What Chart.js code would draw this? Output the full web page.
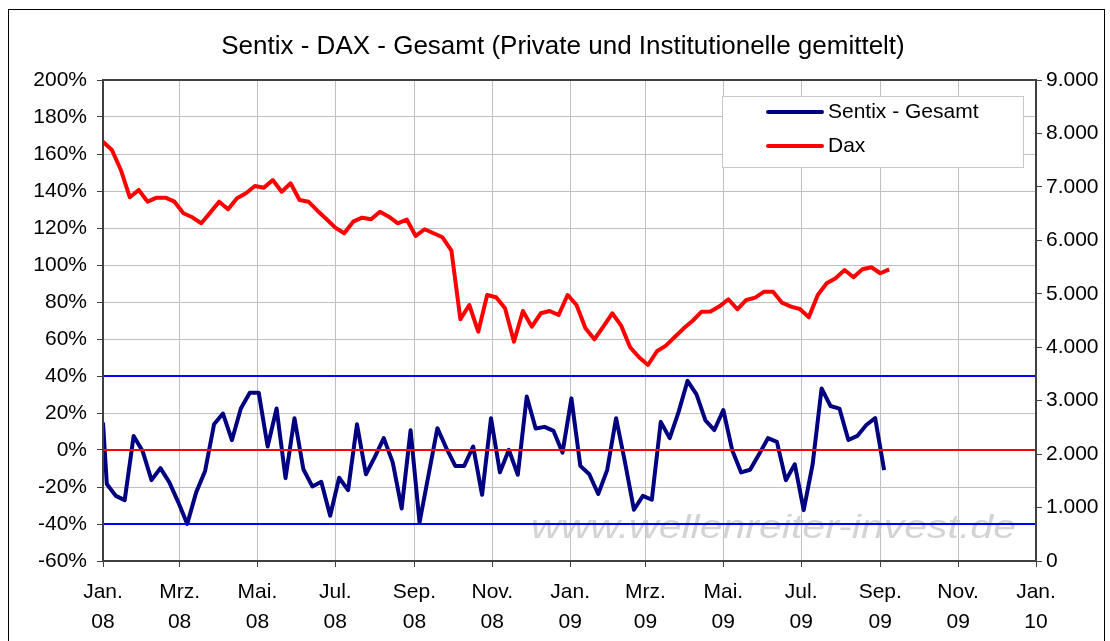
<!DOCTYPE html>
<html><head><meta charset="utf-8">
<script src="https://cdn.jsdelivr.net/npm/chart.js@4.4.1/dist/chart.umd.min.js"></script>
<style>html,body{margin:0;padding:0;background:#fff}canvas{display:block}</style>
</head><body>
<canvas id="c" width="1110" height="641"></canvas>
<script>
// ---------- data ----------
const titleText = 'Sentix - DAX - Gesamt (Private und Institutionelle gemittelt)';
const sentixLabel = 'Sentix - Gesamt';
const daxLabel = 'Dax';
const watermarkText = 'www.wellenreiter-invest.de';

const axisStartDate = '2008-01-01';
const axisEndDate = '2010-01-01';
const monthTickDates = ['2008-01-01','2008-03-01','2008-05-01','2008-07-01','2008-09-01','2008-11-01',
  '2009-01-01','2009-03-01','2009-05-01','2009-07-01','2009-09-01','2009-11-01','2010-01-01'];
const monthTickLabels = [['Jan.','08'],['Mrz.','08'],['Mai.','08'],['Jul.','08'],['Sep.','08'],['Nov.','08'],
  ['Jan.','09'],['Mrz.','09'],['Mai.','09'],['Jul.','09'],['Sep.','09'],['Nov.','09'],['Jan.','10']];

// Sentix: one value at the start of the axis, then weekly readings
const sentixFirstDate = '2008-01-01';
const sentixWeeklyStart = '2008-01-04';
const sentixValues = [14.8,
  -18.4,-24.8,-27.1,7.6,-0.5,-16.3,-9.8,-17.5,-28.3,-40.0,
  -22.9,-11.3,13.9,19.7,5.3,22.4,31.0,31.0,1.9,22.4,
  -15.2,17.2,-10.4,-19.7,-17.2,-35.5,-15.0,-21.7,13.9,-13.1,
  -3.7,6.4,-6.7,-31.6,10.7,-39.1,-13.7,11.8,1.0,-8.6,
  -8.6,1.9,-24.2,17.2,-12.1,0.1,-13.4,28.9,11.6,12.5,
  10.3,-1.4,27.9,-8.6,-13.1,-23.8,-10.9,17.2,-6.7,-32.3,
  -24.8,-26.9,15.2,6.4,20.6,37.4,30.1,16.0,10.8,21.6,
  -0.1,-12.1,-10.7,-2.3,6.4,4.4,-16.3,-7.7,-32.5,-7.7,
  33.3,23.8,22.4,5.4,7.6,13.5,17.2,-10.9];

// DAX weekly closes
const daxWeeklyStart = '2008-01-01';
const daxValues = [
  7846,7691,7317,6806,6942,6723,6798,6798,6723,6506,
  6431,6319,6518,6723,6581,6787,6881,7017,6985,7129,
  6910,7068,6755,6723,6555,6400,6237,6132,6349,6424,
  6394,6536,6443,6319,6390,6082,6207,6132,6057,5807,
  4523,4790,4291,4978,4935,4729,4104,4678,4384,4635,
  4678,4603,4978,4790,4354,4149,4384,4635,4403,4000,
  3812,3668,3925,4030,4190,4354,4495,4665,4670,4765,
  4897,4710,4884,4927,5039,5039,4833,4759,4716,4560,
  4978,5196,5290,5445,5309,5458,5496,5384,5458];

const bandLevels = [40, -40];
const zeroLevels = [0];
const leftMin = -60, leftMax = 200, leftStep = 20;
const rightMin = 0, rightMax = 9000, rightStep = 1000;

// ---------- helpers ----------
const DAY = 86400000;
const dayOf = s => Math.round((Date.parse(s) - Date.parse(axisStartDate)) / DAY);
const xMin = dayOf(axisStartDate), xMax = dayOf(axisEndDate);
const monthTickDays = monthTickDates.map(dayOf);
const sentixPoints = sentixValues.map((v, i) => ({
  x: i === 0 ? dayOf(sentixFirstDate) : dayOf(sentixWeeklyStart) + 7 * (i - 1), y: v }));
const daxPoints = daxValues.map((v, i) => ({ x: dayOf(daxWeeklyStart) + 7 * i, y: v }));
const fmtThousands = v => String(v).replace(/\B(?=(\d{3})+(?!\d))/g, '.');

const FONT = "'Liberation Sans', Arial, sans-serif";
Chart.defaults.font.family = FONT;
Chart.defaults.color = '#000';

const hLine = (v, color) => ({
  label: '_ref', data: [{x: xMin, y: v}, {x: xMax, y: v}], borderColor: color, borderWidth: 2,
  pointRadius: 0, yAxisID: 'y', order: 0, clip: 0
});

const decor = {
  id: 'decor',
  beforeDraw(chart) {
    const c = chart.ctx;
    c.save();
    c.fillStyle = '#fff';
    c.fillRect(0, 0, chart.width, chart.height);
    c.strokeStyle = '#000'; c.lineWidth = 1;
    c.strokeRect(8.5, 9.5, 1096, 700);
    c.fillStyle = '#000';
    c.font = '26px ' + FONT;
    c.textAlign = 'center'; c.textBaseline = 'alphabetic';
    c.fillText(titleText, 563, 54);
    c.restore();
  },
  beforeDatasetsDraw(chart) {
    const c = chart.ctx, a = chart.chartArea;
    c.save();
    c.beginPath(); c.rect(a.left, a.top, a.right - a.left, a.bottom - a.top); c.clip();
    c.font = 'italic 34px ' + FONT;
    c.fillStyle = 'rgba(200,200,200,0.8)';
    c.textBaseline = 'alphabetic'; c.textAlign = 'left';
    const w = c.measureText(watermarkText).width;
    c.translate(531, 538);
    c.scale(485 / w, 1);
    c.fillText(watermarkText, 0, 0);
    c.restore();
  },
  afterDraw(chart) {
    const c = chart.ctx, a = chart.chartArea;
    c.save();
    c.strokeStyle = '#404040'; c.lineWidth = 2;
    c.strokeRect(a.left, a.top, a.right - a.left, a.bottom - a.top);
    // legend
    c.fillStyle = '#fff';
    c.fillRect(722, 96, 301, 71);
    c.strokeStyle = '#c8c8c8'; c.lineWidth = 1;
    c.strokeRect(722.5, 96.5, 301, 71);
    const items = chart.data.datasets.filter(d => d.label !== '_ref');
    const ys = [112, 146];
    c.font = '21px ' + FONT; c.textBaseline = 'middle'; c.textAlign = 'left';
    items.forEach((d, i) => {
      c.strokeStyle = d.borderColor; c.lineWidth = 4; c.lineCap = 'round';
      c.beginPath(); c.moveTo(768, ys[i]); c.lineTo(822, ys[i]); c.stroke();
      c.fillStyle = '#000';
      c.fillText(d.label, 828, ys[i]);
    });
    c.restore();
  }
};

new Chart(document.getElementById('c'), {
  type: 'line',
  data: {
    datasets: [
      ...bandLevels.map(v => hLine(v, '#0000ff')),
      ...zeroLevels.map(v => hLine(v, '#ff0000')),
      { label: sentixLabel, data: sentixPoints, borderColor: '#000080', borderWidth: 4,
        pointRadius: 0, yAxisID: 'y', order: 1, borderJoinStyle: 'round', tension: 0 },
      { label: daxLabel, data: daxPoints, borderColor: '#ff0000', borderWidth: 4,
        pointRadius: 0, yAxisID: 'y1', order: 2, borderJoinStyle: 'round', tension: 0 }
    ]
  },
  options: {
    responsive: false, animation: false, devicePixelRatio: 1,
    layout: { padding: { top: 80, left: 0, right: 0, bottom: 0 } },
    plugins: { legend: { display: false }, tooltip: { enabled: false }, title: { display: false } },
    scales: {
      x: {
        type: 'linear', min: xMin, max: xMax,
        afterBuildTicks: s => { s.ticks = monthTickDays.map(v => ({ value: v })); },
        ticks: { callback: (v, i) => monthTickLabels[i], font: { size: 21, lineHeight: 1.43 },
          padding: 10, maxRotation: 0, minRotation: 0, autoSkip: false, color: '#000' },
        grid: { color: '#c0c0c0', tickColor: '#404040', tickLength: 6, lineWidth: 1 },
        border: { color: '#404040', width: 2 },
        afterFit: s => { s.height = 80; }
      },
      y: {
        position: 'left', min: leftMin, max: leftMax,
        ticks: { stepSize: leftStep, callback: v => v + '%', font: { size: 21 }, padding: 10, color: '#000' },
        grid: { color: '#c0c0c0', tickColor: '#404040', tickLength: 6, lineWidth: 1 },
        border: { color: '#404040', width: 2 },
        afterFit: s => { s.width = 103; }
      },
      y1: {
        position: 'right', min: rightMin, max: rightMax,
        ticks: { stepSize: rightStep, callback: v => fmtThousands(v), font: { size: 21 }, padding: 4, color: '#000' },
        grid: { drawOnChartArea: false, tickColor: '#404040', tickLength: 6 },
        border: { color: '#404040', width: 2 },
        afterFit: s => { s.width = 74; }
      }
    }
  },
  plugins: [decor]
});
</script>
</body></html>
